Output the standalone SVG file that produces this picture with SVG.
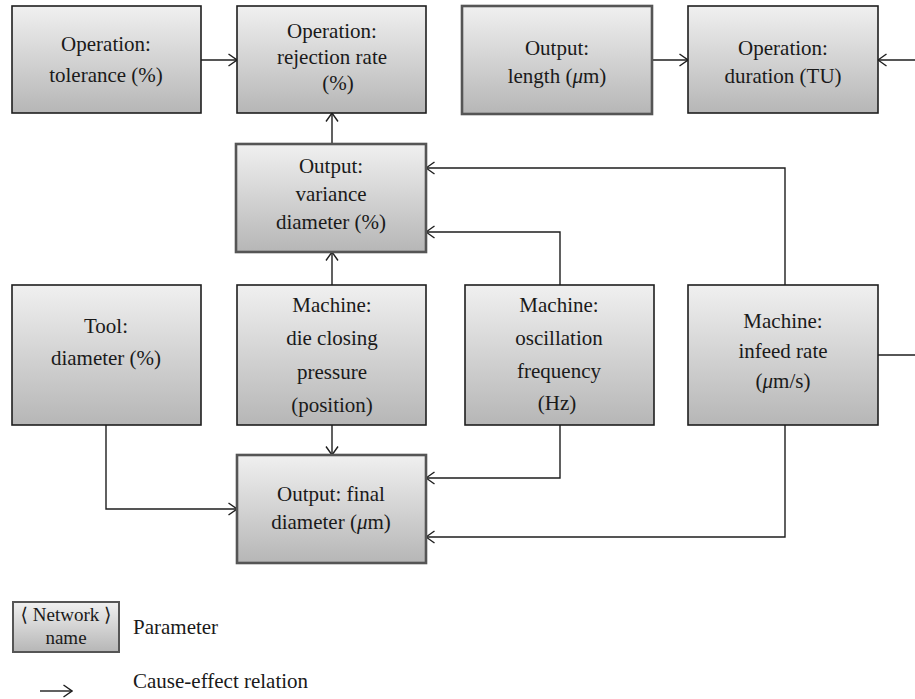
<svg xmlns="http://www.w3.org/2000/svg" width="915" height="699" viewBox="0 0 915 699">
  <style>
    .box { fill: url(#shade); stroke: #1e1e1e; stroke-width: 1.6; }
    .out { fill: url(#shade); stroke: #555; stroke-width: 2.6; }
    text { font-family: 'Liberation Serif', 'Tinos', 'Times New Roman', 'Noto Serif', 'DejaVu Serif', Times, serif; fill: #1a1a1a; }
    .lbl { font-size: 21px; text-anchor: middle; }
    .leg { font-size: 21px; }
    .small { font-size: 19px; }
    .wire { fill: none; stroke: #1e1e1e; stroke-width: 1.4; }
    .arr { marker-end: url(#head); }
  </style>
  <defs>
    <linearGradient id="shade" x1="0" y1="0" x2="0" y2="1">
      <stop offset="0" stop-color="#f0f0f0"/>
      <stop offset="1" stop-color="#b6b6b6"/>
    </linearGradient>
    <marker id="head" viewBox="0 0 10 14" markerUnits="userSpaceOnUse" markerWidth="10" markerHeight="14" refX="9.5" refY="7" orient="auto">
      <path d="M1,1 L9.5,7 L1,13" fill="none" stroke="#1e1e1e" stroke-width="1.4"/>
    </marker>
  </defs>

  <!-- connectors -->
  <g id="connectors">
    <path class="wire arr" d="M201,60 H237"/>
    <path class="wire arr" d="M652,60 H688"/>
    <path class="wire arr" d="M915,60 H878"/>
    <path class="wire" d="M878,355 H915"/>
    <path class="wire arr" d="M332,144 V113"/>
    <path class="wire arr" d="M785,285 V168 H426"/>
    <path class="wire arr" d="M560,285 V232 H426"/>
    <path class="wire arr" d="M332,285 V252"/>
    <path class="wire arr" d="M332,425 V455"/>
    <path class="wire arr" d="M106,425 V509 H237"/>
    <path class="wire arr" d="M560,425 V478 H426"/>
    <path class="wire arr" d="M785,425 V537 H426"/>
  </g>

  <!-- nodes -->
  <g id="tolerance">
    <rect class="box" x="12" y="6" width="189" height="107"/>
    <text class="lbl" x="106" y="51">Operation:</text>
    <text class="lbl" x="106" y="82">tolerance (%)</text>
  </g>
  <g id="rejection-rate">
    <rect class="box" x="237" y="6" width="189" height="107"/>
    <text class="lbl" x="332" y="38">Operation:</text>
    <text class="lbl" x="332" y="64">rejection rate</text>
    <text class="lbl" x="338" y="90">(%)</text>
  </g>
  <g id="length">
    <rect class="out" x="462" y="6" width="190" height="108"/>
    <text class="lbl" x="557" y="55">Output:</text>
    <text class="lbl" x="557" y="83">length (<tspan font-style="italic">μ</tspan>m)</text>
  </g>
  <g id="duration">
    <rect class="box" x="688" y="6" width="190" height="107"/>
    <text class="lbl" x="783" y="55">Operation:</text>
    <text class="lbl" x="783" y="83">duration (TU)</text>
  </g>
  <g id="variance-diameter">
    <rect class="out" x="236" y="144" width="190" height="108"/>
    <text class="lbl" x="331" y="173">Output:</text>
    <text class="lbl" x="331" y="201">variance</text>
    <text class="lbl" x="331" y="229">diameter (%)</text>
  </g>
  <g id="tool-diameter">
    <rect class="box" x="12" y="285" width="189" height="140"/>
    <text class="lbl" x="106" y="333">Tool:</text>
    <text class="lbl" x="106" y="365">diameter (%)</text>
  </g>
  <g id="die-closing">
    <rect class="box" x="237" y="285" width="189" height="140"/>
    <text class="lbl" x="332" y="312">Machine:</text>
    <text class="lbl" x="332" y="345">die closing</text>
    <text class="lbl" x="332" y="379">pressure</text>
    <text class="lbl" x="332" y="412">(position)</text>
  </g>
  <g id="oscillation">
    <rect class="box" x="465" y="285" width="189" height="140"/>
    <text class="lbl" x="559" y="312">Machine:</text>
    <text class="lbl" x="559" y="345">oscillation</text>
    <text class="lbl" x="559" y="378">frequency</text>
    <text class="lbl" x="557" y="410">(Hz)</text>
  </g>
  <g id="infeed-rate">
    <rect class="box" x="688" y="285" width="190" height="140"/>
    <text class="lbl" x="783" y="328">Machine:</text>
    <text class="lbl" x="783" y="358">infeed rate</text>
    <text class="lbl" x="783" y="388">(<tspan font-style="italic">μ</tspan>m/s)</text>
  </g>
  <g id="final-diameter">
    <rect class="out" x="237" y="455" width="189" height="108"/>
    <text class="lbl" x="331" y="501">Output: final</text>
    <text class="lbl" x="331" y="529">diameter (<tspan font-style="italic">μ</tspan>m)</text>
  </g>

  <!-- legend -->
  <g id="legend">
    <rect class="out" x="13" y="602" width="106" height="50" style="stroke-width:2"/>
    <text class="lbl small" x="66" y="621">⟨ Network ⟩</text>
    <text class="lbl small" x="66" y="644">name</text>
    <text class="leg" x="133" y="634">Parameter</text>
    <path class="wire arr" d="M40,691 H72"/>
    <text class="leg" x="133" y="688">Cause-effect relation</text>
  </g>
</svg>
